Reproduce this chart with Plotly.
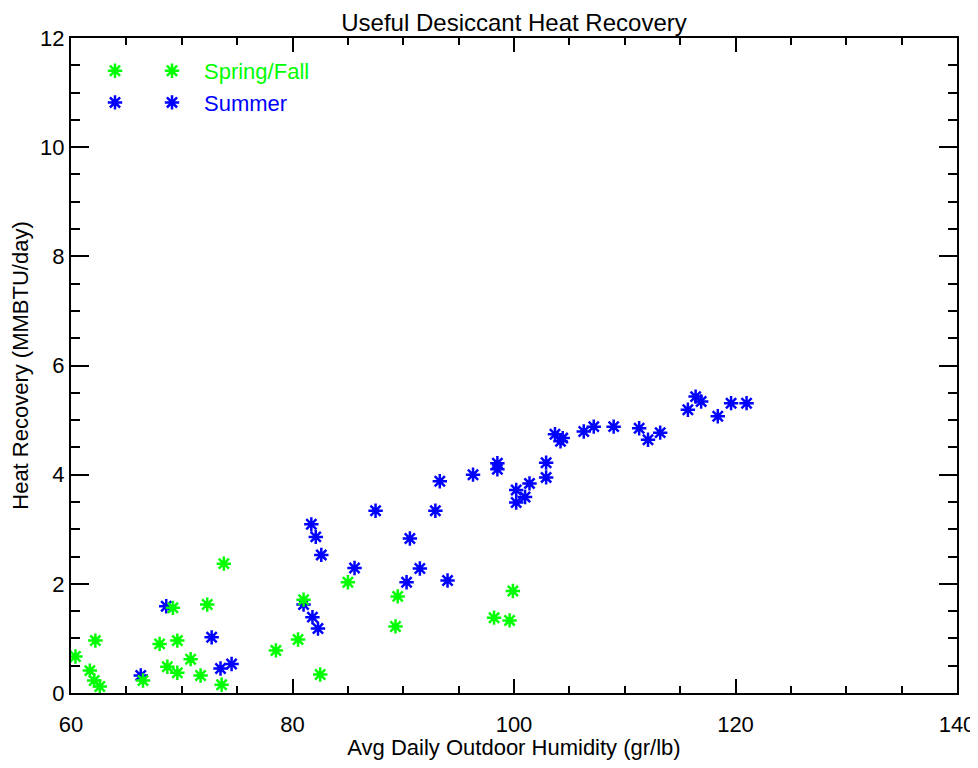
import plotly.graph_objects as go

# Spring/Fall series
spring_x = [60.4, 62.2, 61.7, 62.1, 62.6, 66.5, 68.0, 68.7, 69.2, 69.6, 69.6, 70.8, 71.7,
            72.3, 73.6, 73.8, 78.5, 80.5, 81.0, 82.5, 85.0, 89.3, 89.5, 98.2, 99.6, 99.9]
spring_y = [0.67, 0.96, 0.41, 0.23, 0.12, 0.23, 0.90, 0.48, 1.56, 0.96, 0.37, 0.62, 0.32,
            1.62, 0.15, 2.37, 0.78, 0.98, 1.71, 0.34, 2.03, 1.22, 1.77, 1.38, 1.33, 1.87]

# Summer series
summer_x = [66.3, 68.6, 72.7, 73.5, 74.5, 81.0, 81.8, 82.3, 81.7, 82.1, 82.6, 85.6, 87.5,
            90.3, 90.6, 91.5, 92.9, 93.3, 94.0, 96.3, 98.5, 98.5, 100.2, 100.2, 101.0, 101.4,
            102.9, 102.9, 103.7, 104.4, 104.2, 106.3, 107.2, 109.0, 111.3, 112.1, 113.2,
            115.7, 116.4, 116.9, 118.4, 119.6, 121.0]
summer_y = [0.32, 1.59, 1.02, 0.45, 0.53, 1.62, 1.39, 1.18, 3.09, 2.86, 2.53, 2.29, 3.34,
            2.03, 2.83, 2.28, 3.34, 3.88, 2.06, 4.00, 4.21, 4.10, 3.72, 3.49, 3.59, 3.84,
            4.22, 3.95, 4.74, 4.67, 4.61, 4.79, 4.88, 4.88, 4.85, 4.64, 4.77,
            5.19, 5.43, 5.34, 5.07, 5.31, 5.31]

series_names = ["Spring/Fall", "Summer"]
title_text = "Useful Desiccant Heat Recovery"
x_title = "Avg Daily Outdoor Humidity (gr/lb)"
y_title = "Heat Recovery (MMBTU/day)"

GREEN = "#00ff00"
BLUE = "#0000ff"
FONT = "Liberation Sans, Arial, sans-serif"


def marker(color):
    return dict(symbol="asterisk-open", size=12, color=color,
                line=dict(color=color, width=2.5))


fig = go.Figure()
fig.add_trace(go.Scatter(
    x=summer_x, y=summer_y, mode="markers",
    name=f"<span style='color:{BLUE}'>{series_names[1]}</span>",
    legendrank=2, legend="legend", marker=marker(BLUE),
))
fig.add_trace(go.Scatter(
    x=spring_x, y=spring_y, mode="markers",
    name=f"<span style='color:{GREEN}'>{series_names[0]}</span>",
    legendrank=1, legend="legend", marker=marker(GREEN),
))
# IDL-style legend shows the symbol twice per entry: second (leading) symbol column
fig.add_trace(go.Scatter(
    x=[None], y=[None], mode="markers", name=" ", legend="legend2",
    legendrank=1, marker=marker(GREEN), hoverinfo="skip",
))
fig.add_trace(go.Scatter(
    x=[None], y=[None], mode="markers", name=" ", legend="legend2",
    legendrank=2, marker=marker(BLUE), hoverinfo="skip",
))

axis_common = dict(
    showline=True, linecolor="black", linewidth=2, mirror="ticks",
    ticks="inside", tickwidth=2, tickcolor="black", showgrid=False, zeroline=False,
    automargin=False,
    tickfont=dict(size=22, color="black", family=FONT),
)

legend_y = (693 - 50) / 655

fig.update_layout(
    width=970, height=752,
    margin=dict(l=63, r=21, t=30, b=67),
    paper_bgcolor="white", plot_bgcolor="white",
    font=dict(family=FONT, color="black"),
    title=dict(text=title_text, x=0.5, xref="paper", xanchor="center",
               y=0.981, yref="container", yanchor="middle",
               font=dict(size=24, color="black", family=FONT)),
    showlegend=True,
    legend=dict(x=(140 - 71) / 886, y=legend_y, xanchor="left", yanchor="top",
                bgcolor="rgba(0,0,0,0)", itemwidth=54, traceorder="normal",
                font=dict(size=22, family=FONT)),
    legend2=dict(x=(95 - 71) / 886, y=legend_y, xanchor="left", yanchor="top",
                 bgcolor="rgba(0,0,0,0)", itemwidth=30, traceorder="normal",
                 font=dict(size=22, family=FONT)),
    xaxis=dict(range=[60, 140], dtick=20, tick0=60, ticklen=14, ticklabelstandoff=11,
               minor=dict(dtick=5, ticks="inside", ticklen=7, tickwidth=2, tickcolor="black"),
               title=dict(text=x_title, font=dict(size=22, family=FONT), standoff=13),
               **axis_common),
    yaxis=dict(range=[0, 12], dtick=2, tick0=0, ticklen=18,
               minor=dict(dtick=0.5, ticks="inside", ticklen=9, tickwidth=2, tickcolor="black"),
               title=dict(text=y_title, font=dict(size=22, family=FONT), standoff=7),
               **axis_common),
)

fig.write_html("out.html")
